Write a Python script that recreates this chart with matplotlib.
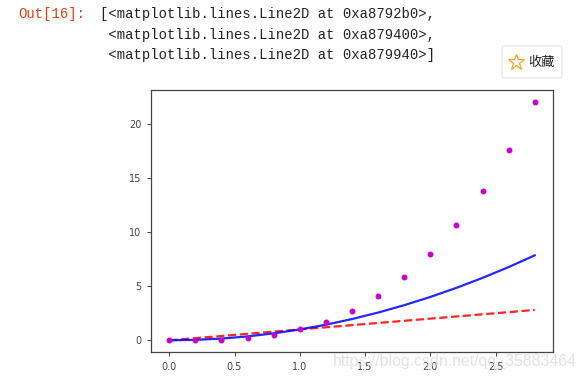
import matplotlib
matplotlib.use('Agg')
import matplotlib.pyplot as plt
from matplotlib.patches import FancyBboxPatch

# values
t = [0.0, 0.2, 0.4, 0.6, 0.8, 1.0, 1.2, 1.4, 1.6, 1.8, 2.0, 2.2, 2.4, 2.6, 2.8]
red_y = [0.0, 0.2, 0.4, 0.6, 0.8, 1.0, 1.2, 1.4, 1.6, 1.8, 2.0, 2.2, 2.4, 2.6, 2.8]
blue_y = [0.0, 0.04, 0.16, 0.36, 0.64, 1.0, 1.44, 1.96, 2.56, 3.24, 4.0, 4.84, 5.76, 6.76, 7.84]
dots_y = [0.0, 0.01, 0.06, 0.22, 0.51, 1.0, 1.73, 2.74, 4.1, 5.83, 8.0, 10.65, 13.82, 17.58, 21.95]
x_ticks = [0.0, 0.5, 1.0, 1.5, 2.0, 2.5]
y_ticks = [0, 5, 10, 15, 20]
out_label = 'Out[16]:'
out_lines = ['[<matplotlib.lines.Line2D at 0xa8792b0>,',
             ' <matplotlib.lines.Line2D at 0xa879400>,',
             ' <matplotlib.lines.Line2D at 0xa879940>]']
W, H = 585, 379

fig = plt.figure(figsize=(W / 100, H / 100), dpi=100, facecolor='white')
ax = fig.add_axes([151 / W, 1 - 352 / H, 402 / W, 262 / H])

# same draw order as the notebook call
ax.plot(t, red_y, 'r--', alpha=0.85, lw=1.6)
ax.plot(t, blue_y, 'b-', alpha=0.85, lw=1.6)
ax.plot(t, dots_y, '.', ms=6.5, color='#c400c4')

ax.set_xlim(-0.14, 2.94)
ax.set_ylim(-1.08, 23.1)
ax.set_xticks(x_ticks)
ax.set_yticks(y_ticks)
ax.tick_params(labelsize=7, length=3, width=0.7, colors='#444444', pad=4)
for s in ax.spines.values():
    s.set_color('#444444')
    s.set_linewidth(0.9)

# notebook output text
fig.text(18 / W, 1 - 14 / H, out_label, family='Liberation Mono', fontsize=10,
         color='#d84315', va='center')
for line, y in zip(out_lines, [14, 35, 55]):
    fig.text(100 / W, 1 - y / H, line, family='Liberation Mono', fontsize=10,
             color='#222222', va='center')

# floating button of the blog page
over = fig.add_axes([0, 0, 1, 1], facecolor='none')
over.set_xlim(0, W)
over.set_ylim(H, 0)
over.axis('off')
over.add_patch(FancyBboxPatch((502, 46), 60, 32, boxstyle='round,pad=0,rounding_size=2',
                              fc='white', ec='#e4e4e4', lw=0.8))
over.plot([516], [62], marker='*', ms=12, mfc='none', mec='#f5a623', mew=0.9)
over.text(528, 62, '收藏', family='Noto Sans CJK SC', fontsize=9.5, color='#222222', va='center')

# watermark
over.text(577, 361, 'https://blog.csdn.net/qq_35883464', family='Liberation Sans', fontsize=11.4,
          color='#d8d8d8', alpha=0.75, ha='right', va='center')

fig.savefig('out.png', dpi=100)
